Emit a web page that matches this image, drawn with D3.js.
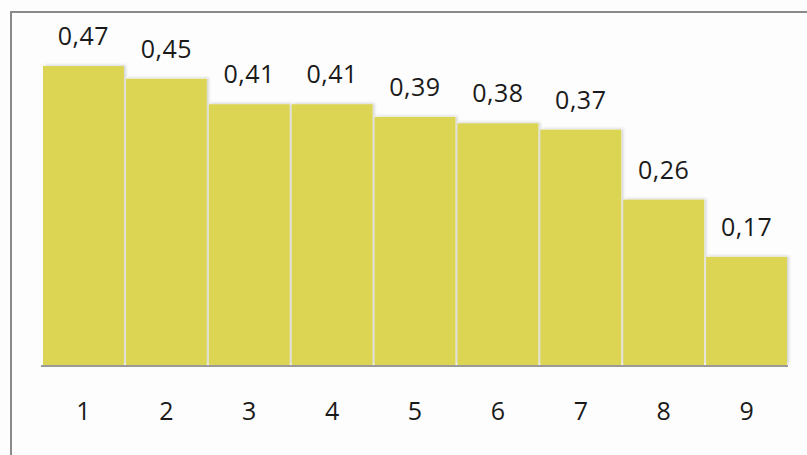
<!DOCTYPE html>
<html>
<head>
<meta charset="utf-8">
<script src="https://cdn.jsdelivr.net/npm/d3@7/dist/d3.min.js"></script>
<style>
  html, body { margin: 0; padding: 0; background: #fdfdfd; }
  svg { display: block; }
  text { font-family: "Open Sans", "DejaVu Sans", sans-serif; fill: #1a1a1a; }
</style>
</head>
<body>
<svg id="chart" width="807" height="455"></svg>
<script>
// Chart data
const categories = ["1", "2", "3", "4", "5", "6", "7", "8", "9"];
const values = [0.47, 0.45, 0.41, 0.41, 0.39, 0.38, 0.37, 0.26, 0.17];
const valueLabels = ["0,47", "0,45", "0,41", "0,41", "0,39", "0,38", "0,37", "0,26", "0,17"];

const svg = d3.select("#chart");
const W = 807, H = 455;
const plot = { left: 42, right: 788, top: 47, bottom: 365 };

// Frame: left and top edges only
svg.append("path")
  .attr("d", `M11,${H} L11,12 L${W},12`)
  .attr("fill", "none")
  .attr("stroke", "#8a8a8a")
  .attr("stroke-width", 2);

const x = d3.scaleBand()
  .domain(categories)
  .range([plot.left, plot.right])
  .paddingInner(0)
  .paddingOuter(0);

const y = d3.scaleLinear()
  .domain([0, 0.5])
  .range([plot.bottom, plot.top]);

// Soft shadow behind the bars
const defs = svg.append("defs");
const f = defs.append("filter").attr("id", "barShadow")
  .attr("x", "-10%").attr("y", "-10%").attr("width", "130%").attr("height", "130%");
f.append("feDropShadow")
  .attr("dx", 2).attr("dy", -1).attr("stdDeviation", 1.5)
  .attr("flood-color", "#000").attr("flood-opacity", 0.16);

const data = categories.map((c, i) => ({ c, v: values[i], label: valueLabels[i] }));

svg.append("g")
  .selectAll("rect")
  .data(data)
  .join("rect")
  .attr("x", d => x(d.c) + 1)
  .attr("y", d => y(d.v))
  .attr("width", x.bandwidth() - 2)
  .attr("height", d => y(0) - y(d.v))
  .attr("fill", "#dcd452")
  .attr("filter", "url(#barShadow)");

// Baseline
svg.append("line")
  .attr("x1", plot.left - 1).attr("x2", plot.right)
  .attr("y1", plot.bottom + 1).attr("y2", plot.bottom + 1)
  .attr("stroke", "#9a9a9a")
  .attr("stroke-width", 2);

// Value labels
svg.append("g")
  .selectAll("text")
  .data(data)
  .join("text")
  .attr("x", d => x(d.c) + x.bandwidth() / 2)
  .attr("y", d => y(d.v) - 21)
  .attr("text-anchor", "middle")
  .attr("font-size", 25)
  .attr("letter-spacing", 0.5)
  .text(d => d.label);

// Category axis labels
const xAxis = d3.axisBottom(x).tickSize(0).tickPadding(0);
const gx = svg.append("g")
  .attr("transform", `translate(0,${plot.bottom})`)
  .call(xAxis);
gx.select(".domain").remove();
gx.selectAll("text")
  .attr("y", 55)
  .attr("dy", 0)
  .attr("font-size", 25)
  .attr("fill", "#1a1a1a")
  .style("font-family", "\"Open Sans\", \"DejaVu Sans\", sans-serif");
</script>
</body>
</html>
